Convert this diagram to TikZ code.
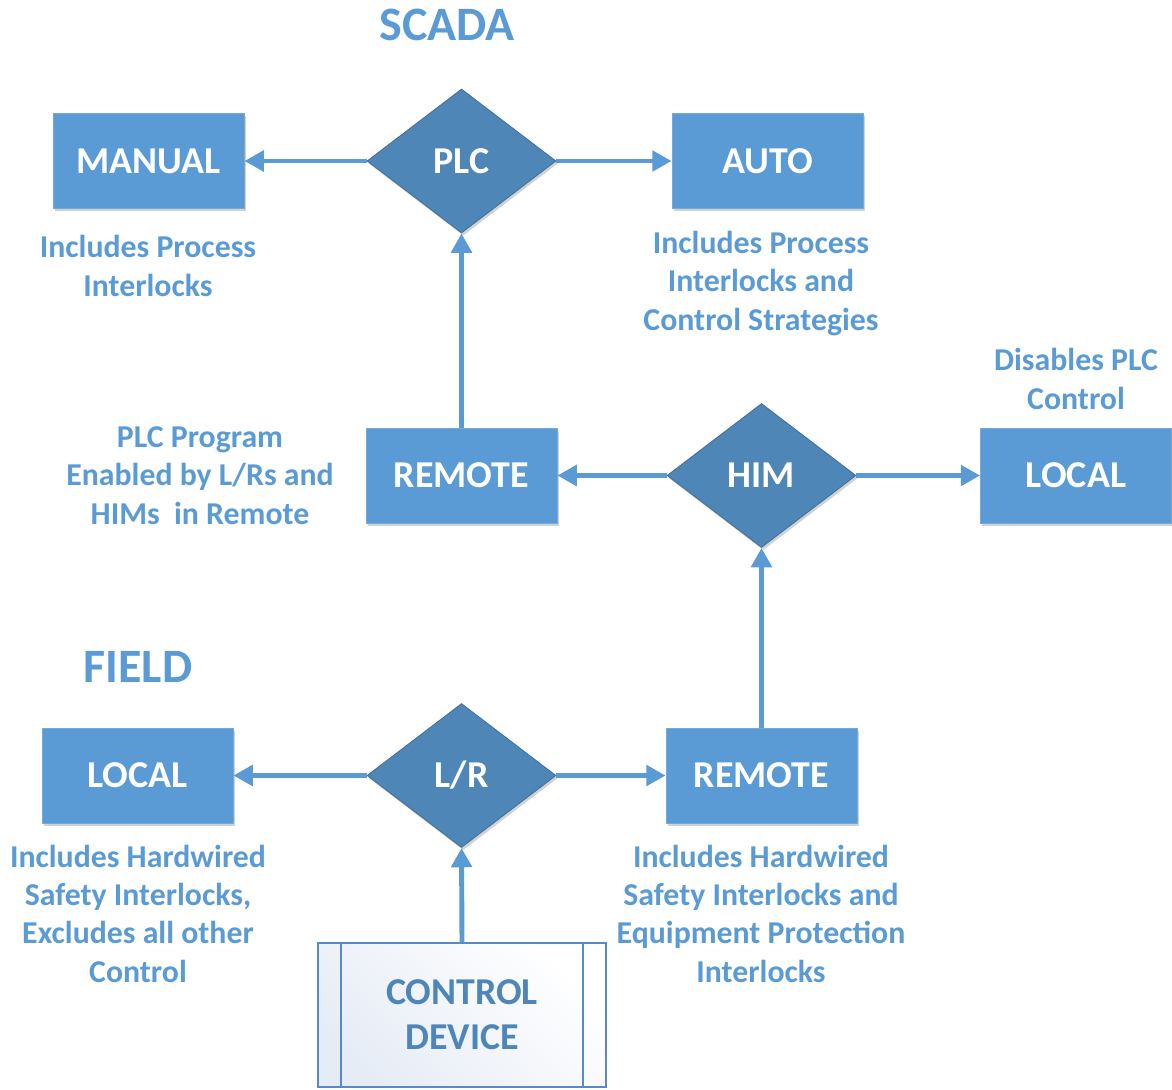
\documentclass[tikz,border=0pt]{standalone}
\usepackage{fontspec}
\setmainfont{Carlito}
\usetikzlibrary{shapes.geometric,arrows.meta,shadows}
\definecolor{boxblue}{HTML}{5B9BD5}
\definecolor{diablue}{HTML}{4E86B8}
\definecolor{diaedge}{HTML}{41719C}
\definecolor{devedge}{HTML}{5A8AC6}
\definecolor{devtext}{HTML}{4F86BA}
\definecolor{devfill}{HTML}{E6ECF6}
\begin{document}
\begin{tikzpicture}[x=0.02cm,y=-0.02cm,
  font=\bfseries,
  modebox/.style={rectangle, fill=boxblue, draw=boxblue!85!white, line width=0.5pt,
    minimum width=3.82cm, minimum height=1.9cm, inner sep=0pt,
    text=white, font=\fontsize{21.6}{25}\selectfont\bfseries,
    drop shadow={shadow xshift=1pt, shadow yshift=-1.5pt, opacity=0.18, fill=black}},
  switch/.style={diamond, fill=diablue, draw=diaedge, line width=0.5pt,
    aspect=1.31, minimum width=3.78cm, minimum height=2.88cm, inner sep=0pt,
    text=white, font=\fontsize{21.6}{25}\selectfont\bfseries,
    drop shadow={shadow xshift=1pt, shadow yshift=-1.5pt, opacity=0.18, fill=black}},
  note/.style={align=center, text=boxblue, font=\fontsize{18.1}{21.8}\selectfont\bfseries},
  heading/.style={text=boxblue, font=\fontsize{27.3}{32}\selectfont\bfseries},
  link/.style={draw=boxblue, line width=2.8pt, -{Triangle[length=11pt,width=11.5pt]}}
]
\useasboundingbox (0,0) rectangle (1172,1089);

% headings
\node[heading] (scada) at (447,25) {SCADA};
\node[heading] (field) at (138,667) {FIELD};

% SCADA level
\node[modebox] (manual) at (148.5,161) {MANUAL};
\node[switch]  (plc)    at (461.5,161) {PLC};
\node[modebox] (auto)   at (767.5,161) {AUTO};
\node[modebox] (rremote) at (461.5,475.5) {REMOTE};
\node[switch]  (him)    at (761.5,475.5) {HIM};
\node[modebox] (rlocal) at (1076,475.5) {LOCAL};

% field level
\node[modebox] (flocal)  at (137.5,775.5) {LOCAL};
\node[switch]  (lr)      at (461.5,775.5) {L/R};
\node[modebox] (fremote) at (761.5,775.5) {REMOTE};

% control device with side bars
\node[rectangle, draw=devedge, line width=1pt, minimum width=5.76cm, minimum height=2.88cm,
  inner sep=0pt, left color=devfill, right color=white, shading angle=135,
  text=devtext, align=center, font=\fontsize{21.6}{25.5}\selectfont\bfseries]
  (device) at (462,1015) {CONTROL\\DEVICE};
\draw[devedge, line width=1pt] ([xshift=0.48cm]device.north west) -- ([xshift=0.48cm]device.south west);
\draw[devedge, line width=1pt] ([xshift=-0.48cm]device.north east) -- ([xshift=-0.48cm]device.south east);

% connectors
\draw[link] (plc.west) -- (manual.east);
\draw[link] (plc.east) -- (auto.west);
\draw[link] (rremote.north) -- (plc.south);
\draw[link] (him.west) -- (rremote.east);
\draw[link] (him.east) -- (rlocal.west);
\draw[link] (fremote.north) -- (him.south);
\draw[link] (lr.west) -- (flocal.east);
\draw[link] (lr.east) -- (fremote.west);
\draw[link] (device.north) -- (lr.south);

% notes
\node[note] (nmanual) at (148,266) {Includes Process\\Interlocks};
\node[note] (nauto)   at (761,283.5) {Includes Process\\Interlocks and\\Control Strategies};
\node[note] (nlocal)  at (1076,379) {Disables PLC\\Control};
\node[note] (nremote) at (200,475.5) {PLC Program\\Enabled by L/Rs and\\HIMs\ \ in Remote};
\node[note] (nflocal) at (138,913.5) {Includes Hardwired\\Safety Interlocks,\\Excludes all other\\Control};
\node[note] (nfremote) at (761,913.5) {Includes Hardwired\\Safety Interlocks and\\Equipment Protection\\Interlocks};
\end{tikzpicture}
\end{document}
